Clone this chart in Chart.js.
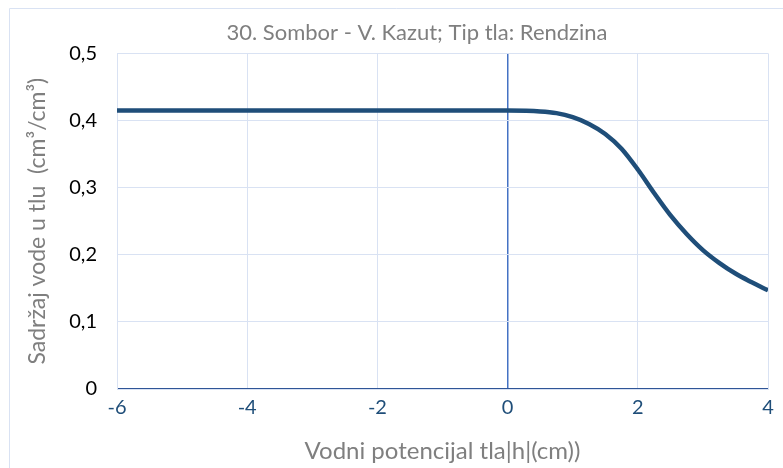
<!DOCTYPE html>
<html>
<head>
<meta charset="utf-8">
<script src="https://cdn.jsdelivr.net/npm/chart.js@4.4.0/dist/chart.umd.min.js"></script>
<style>
html,body{margin:0;padding:0;background:#fff;}
#wrap{width:783px;height:468px;position:relative;}
</style>
</head>
<body>
<div id="wrap"><canvas id="c" width="783" height="468"></canvas></div>
<script>
// Data
const titleText = "30. Sombor - V. Kazut; Tip tla: Rendzina";
const xAxisTitle = "Vodni potencijal tla|h|(cm))";
const yAxisTitle = "Sadržaj vode u tlu  (cm³/cm³)";
const xValues = [-6, -5, -4, -3, -2, -1, 0, 0.5, 0.75, 1, 1.25, 1.5, 1.75, 2, 2.25, 2.5, 2.75, 3, 3.25, 3.5, 3.75, 4];
const thetaValues = [0.415, 0.415, 0.415, 0.415, 0.415, 0.415, 0.4148, 0.4135, 0.411, 0.405, 0.395, 0.380, 0.358, 0.327, 0.292, 0.259, 0.231, 0.207, 0.188, 0.172, 0.159, 0.147];
const xTicks = [-6, -4, -2, 0, 2, 4];
const yTicks = [0, 0.1, 0.2, 0.3, 0.4, 0.5];

const FONT = "Lato";
const points = xValues.map((x, i) => ({x: x, y: thetaValues[i]}));

const framePlugin = {
  id: 'frame',
  beforeDraw(chart) {
    const ctx = chart.ctx;
    ctx.save();
    ctx.fillStyle = '#ffffff';
    ctx.fillRect(0, 0, chart.width, chart.height);
    ctx.strokeStyle = '#d9e2f3';
    ctx.lineWidth = 1;
    ctx.beginPath();
    ctx.moveTo(9.5, chart.height + 2);
    ctx.lineTo(9.5, 8.5);
    ctx.lineTo(chart.width + 2, 8.5);
    ctx.stroke();
    ctx.restore();
  }
};

new Chart(document.getElementById('c'), {
  type: 'scatter',
  data: {
    datasets: [{
      data: points,
      showLine: true,
      borderColor: '#1f4e79',
      borderWidth: 4.5,
      pointRadius: 0,
      cubicInterpolationMode: 'monotone',
      fill: false
    }]
  },
  options: {
    responsive: false,
    animation: false,
    devicePixelRatio: 1,
    layout: {padding: {left: 66, right: 15, top: 0, bottom: 0}},
    plugins: {
      legend: {display: false},
      tooltip: {enabled: false},
      title: {
        display: true,
        text: titleText,
        color: '#7f7f7f',
        font: {family: FONT, size: 22, weight: 'normal'},
        padding: {top: 20, bottom: 7}
      }
    },
    scales: {
      x: {
        type: 'linear',
        min: -6, max: 4,
        afterBuildTicks(scale) { scale.ticks = xTicks.map(v => ({value: v})); },
        afterFit(scale) { scale.height = 79; },
        grid: {
          color: ctx => (ctx.tick && ctx.tick.value === 0) ? '#4472c4' : '#d9e2f3',
          lineWidth: ctx => (ctx.tick && ctx.tick.value === 0) ? 1.5 : 1,
          drawTicks: false
        },
        border: {display: true, color: '#d9e2f3'},
        ticks: {
          color: '#1f4e79',
          font: {family: FONT, size: 20},
          padding: 7,
          maxRotation: 0,
          callback: v => String(v)
        },
        title: {
          display: true,
          text: xAxisTitle,
          color: '#7f7f7f',
          font: {family: FONT, size: 24},
          padding: {top: 0, bottom: 2}
        }
      },
      y: {
        type: 'linear',
        min: 0, max: 0.5,
        afterBuildTicks(scale) { scale.ticks = yTicks.map(v => ({value: v})); },
        afterFit(scale) { scale.width = 51; },
        grid: {
          color: ctx => (ctx.tick && ctx.tick.value === 0) ? '#2f5597' : '#d9e2f3',
          lineWidth: ctx => (ctx.tick && ctx.tick.value === 0) ? 1.5 : 1,
          drawTicks: false
        },
        border: {display: true, color: '#d9e2f3'},
        ticks: {
          color: '#000000',
          font: {family: FONT, size: 20},
          padding: 20,
          callback: v => v === 0 ? '0' : v.toFixed(1).replace('.', ',')
        },
        title: {
          display: true,
          text: yAxisTitle,
          color: '#7f7f7f',
          font: {family: FONT, size: 23},
          padding: {top: -42, bottom: 0}
        }
      }
    }
  },
  plugins: [framePlugin]
});
</script>
</body>
</html>
